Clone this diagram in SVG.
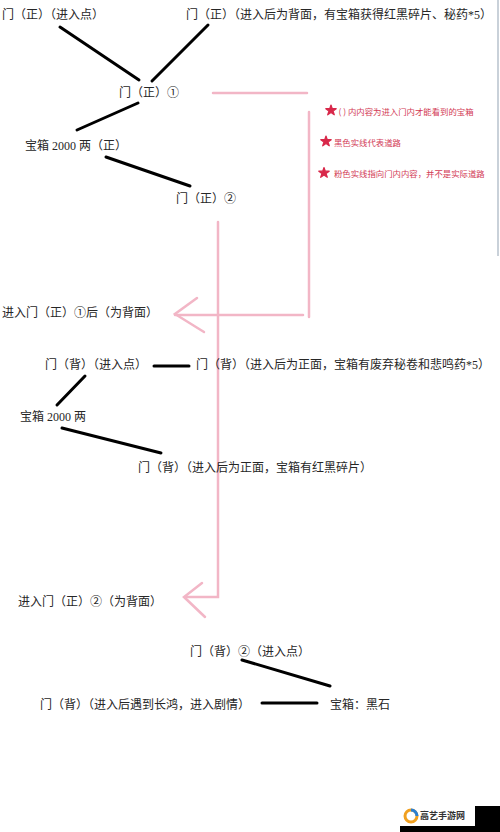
<svg xmlns="http://www.w3.org/2000/svg" width="500" height="832" viewBox="0 0 500 832">
<style>
.t{font-family:"Liberation Serif","Noto Sans CJK SC",serif;font-size:12px;fill:#262626}
.lg{font-family:"Noto Sans CJK SC",sans-serif;font-size:8.4px;fill:#d23a55}
.rd{stroke:#000;stroke-width:3;stroke-linecap:round;fill:none}
.pk{stroke:#f2b6c6;stroke-width:2.5;stroke-linecap:round;fill:none}
.st{fill:#d8284a;stroke:#d8284a;stroke-width:1.2;stroke-linejoin:round}
</style>
<rect width="500" height="832" fill="#fff"/>
<line x1="498" y1="0" x2="498" y2="256" stroke="#c9d1d9" stroke-width="2"/>
<g id="connectors">
<line class="rd" x1="60" y1="27" x2="139" y2="80"/>
<line class="rd" x1="208" y1="25" x2="152" y2="81"/>
<line class="rd" x1="138" y1="103" x2="77" y2="130"/>
<line class="rd" x1="106" y1="157" x2="190" y2="186"/>
<line class="rd" x1="154" y1="366" x2="189" y2="366"/>
<line class="rd" x1="85" y1="376" x2="57" y2="405"/>
<line class="rd" x1="62" y1="428" x2="161" y2="453"/>
<line class="rd" x1="242" y1="660" x2="330" y2="686"/>
<line class="rd" x1="262" y1="703" x2="317" y2="703"/>
<polyline class="pk" points="213,93 307,93"/>
<polyline class="pk" points="309,112 309,317"/>
<polyline class="pk" points="303,315 175,315"/>
<polyline class="pk" points="197,298 175,314 204,332"/>
<polyline class="pk" points="218,222 218,597 185,597"/>
<polyline class="pk" points="202,583 184,597 205,617"/>
</g>
<g id="n1"><text class="t" x="2" y="19">门（正）（进入点）</text></g>
<g id="n2"><text class="t" x="186" y="19">门（正）（进入后为背面，有宝箱获得红黑碎片、秘药*5）</text></g>
<g id="n3"><text class="t" x="119" y="97">门（正）①</text></g>
<g id="n4"><text class="t" x="25" y="150">宝箱 2000 两（正）</text></g>
<g id="n5"><text class="t" x="176" y="203">门（正）②</text></g>
<g id="legend">
<polygon class="st" points="331,105 332.3,108.7 336.2,108.7 333.1,111.1 334.3,114.8 331,112.5 327.7,114.8 328.9,111.1 325.8,108.7 329.7,108.7"/>
<text class="lg" x="338.5" y="115">(  ) 内内容为进入门内才能看到的宝箱</text>
<polygon class="st" points="326,136 327.3,139.7 331.2,139.7 328.1,142.1 329.3,145.8 326,143.5 322.7,145.8 323.9,142.1 320.8,139.7 324.7,139.7"/>
<text class="lg" x="334" y="146">黑色实线代表道路</text>
<polygon class="st" points="324,167.5 325.3,171.2 329.2,171.2 326.1,173.6 327.3,177.3 324,175 320.7,177.3 321.9,173.6 318.8,171.2 322.7,171.2"/>
<text class="lg" x="334" y="177">粉色实线指向门内内容，并不是实际道路</text>
</g>
<g id="n6"><text class="t" x="2" y="317">进入门（正）①后（为背面）</text></g>
<g id="n7"><text class="t" x="45" y="369">门（背）（进入点）</text></g>
<g id="n8"><text class="t" x="196" y="369">门（背）（进入后为正面，宝箱有废弃秘卷和悲鸣药*5）</text></g>
<g id="n9"><text class="t" x="20" y="421">宝箱 2000 两</text></g>
<g id="n10"><text class="t" x="138" y="472">门（背）（进入后为正面，宝箱有红黑碎片）</text></g>
<g id="n11"><text class="t" x="18" y="606">进入门（正）②（为背面）</text></g>
<g id="n12"><text class="t" x="190" y="656">门（背）②（进入点）</text></g>
<g id="n13"><text class="t" x="40" y="709">门（背）（进入后遇到长鸿，进入剧情）</text></g>
<g id="n14"><text class="t" x="330" y="709">宝箱：黑石</text></g>
<g id="watermark">
<rect x="400" y="806" width="100" height="26" fill="#000"/>
<rect x="400" y="806" width="75" height="20" fill="#fff"/>
<circle cx="411" cy="816" r="6" fill="none" stroke="#f0a020" stroke-width="3"/>
<path d="M411 810 A6 6 0 0 1 417 816" fill="none" stroke="#2a7fd4" stroke-width="3"/>
<text x="420" y="819" style="font-family:'Noto Sans CJK SC',sans-serif;font-size:9px;font-weight:bold;fill:#333">高艺手游网</text>
</g>
</svg>
